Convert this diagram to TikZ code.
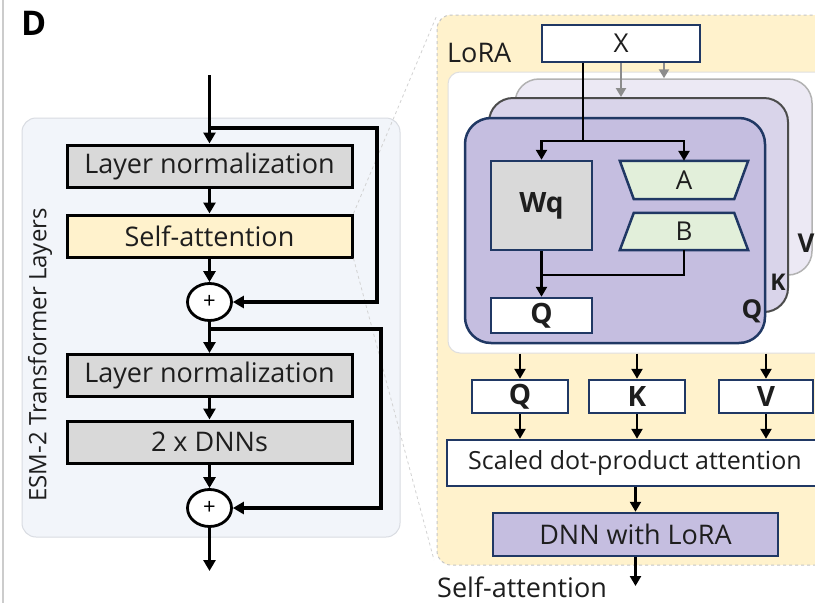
\documentclass[tikz,border=0pt]{standalone}
\usepackage{fontspec}
\setmainfont{Open Sans}
\usetikzlibrary{arrows.meta,shapes.geometric}
\definecolor{esmbg}{HTML}{F2F5FA}
\definecolor{esmedge}{HTML}{D9DCE2}
\definecolor{boxgray}{HTML}{D9D9D9}
\definecolor{attnY}{HTML}{FFF2CC}
\definecolor{navy}{HTML}{203864}
\definecolor{lavQ}{HTML}{C5BEE0}
\definecolor{lavK}{HTML}{D9D4EA}
\definecolor{lavV}{HTML}{ECE9F4}
\definecolor{loraA}{HTML}{E2EFDA}
\definecolor{txt}{HTML}{1E1E1E}
\tikzset{
  thk/.style={line width=3.2pt, draw=black},
  arr/.style={thk, -{Triangle[length=11pt,width=12pt]}},
  rline/.style={line width=2.8pt, draw=black},
  rarr/.style={rline, -{Triangle[length=10pt,width=11pt]}},
  garr/.style={line width=2.4pt, draw=gray!90, -{Triangle[length=9pt,width=10pt]}},
  layerbox/.style={draw=black, line width=3pt, fill=boxgray, minimum width=285pt, minimum height=42pt, font=\fontsize{27}{30}\selectfont, text=txt, inner sep=0pt},
  plusnode/.style={ellipse, draw=black, line width=2.8pt, fill=white, minimum width=44pt, minimum height=37pt, inner sep=0pt, font=\fontsize{22}{24}\selectfont},
  navybox/.style={draw=navy, line width=2.5pt, fill=white, inner sep=0pt, text=txt},
  boldlab/.style={font=\fontsize{28}{30}\selectfont\bfseries},
  zoomline/.style={draw=gray!35, dashed, line width=0.8pt},
}
\begin{document}
\begin{tikzpicture}[x=1pt,y=-1pt]
\useasboundingbox (0,0) rectangle (815,603);
\clip (0,0) rectangle (815,603);
\fill[white] (0,0) rectangle (815,603);

% left rule of the figure
\draw[gray!40, line width=2pt] (3,0) -- (3,603);

% panel letter
\node[anchor=base west, font=\fontsize{34}{38}\selectfont\bfseries, inner sep=0pt] (letter) at (21,35) {D};

% ===== ESM-2 transformer layer =====
\draw[draw=esmedge, fill=esmbg, line width=1pt, rounded corners=14pt] (22,118) rectangle (400,537);
\node[rotate=90, font=\fontsize{24}{27}\selectfont, text=txt] (esm) at (40,355) {ESM-2 Transformer Layers};

\node[layerbox] (ln1) at (209.5,166) {Layer normalization};
\node[layerbox, fill=attnY] (sa) at (209.5,236) {Self-attention};
\node[plusnode] (plus1) at (209.5,302) {+};
\node[layerbox] (ln2) at (209.5,375.5) {Layer normalization};
\node[layerbox] (dnn2) at (209.5,442) {2 x DNNs};
\node[plusnode] (plus2) at (209.5,508) {+};

% zoom guides towards the LoRA panel
\coordinate (zt) at (437,15);
\coordinate (zb) at (434,560);
\draw[zoomline] (sa.north east) -- (zt);
\draw[zoomline] (sa.south east) -- (zb);

\coordinate (in) at (209.5,75);
\coordinate (br1) at (209.5,128);
\coordinate (r1) at (377,128);
\coordinate (br2) at (209.5,329);
\coordinate (r2) at (381,329);
\coordinate (out) at (209.5,571);

\draw[arr] (in) -- (ln1.north);
\draw[arr] (br1) -- (r1) |- (plus1.east);
\draw[arr] (ln1.south) -- (sa.north);
\draw[arr] (sa.south) -- (plus1.north);
\draw[arr] (plus1.south) -- (ln2.north);
\draw[arr] (br2) -- (r2) |- (plus2.east);
\draw[arr] (ln2.south) -- (dnn2.north);
\draw[arr] (dnn2.south) -- (plus2.north);
\draw[arr] (plus2.south) -- (out);

% ===== LoRA self-attention =====
\draw[draw=gray!45, dashed, line width=1pt, fill=attnY, rounded corners=14pt] (437,15) rectangle (850,565);
\node[anchor=base west, inner sep=0pt, font=\fontsize{27}{30}\selectfont, text=txt] (lora) at (447,62) {LoRA};

\node[draw=gray!25, line width=1pt, fill=white, rounded corners=12pt, minimum width=400pt, minimum height=281pt, inner sep=0pt] (inner) at (648,212.5) {};

\node[draw=gray!60, line width=1.5pt, fill=lavV, rounded corners=24pt, minimum width=297pt, minimum height=196pt] (vpanel) at (663.5,177) {};
\node[draw=black!70, line width=2pt, fill=lavK, rounded corners=24pt, minimum width=299pt, minimum height=214pt] (kpanel) at (638.5,205) {};
\node[draw=navy, line width=2.5pt, fill=lavQ, rounded corners=26pt, minimum width=300pt, minimum height=225pt] (qpanel) at (615,230.5) {};
\node[font=\fontsize{26}{28}\selectfont\bfseries, text=txt, inner sep=0pt] (vlab) at (806,243) {V};
\node[font=\fontsize{23}{25}\selectfont\bfseries, text=txt, inner sep=0pt] (klab) at (778,282) {K};
\node[font=\fontsize{26}{28}\selectfont\bfseries, text=txt, inner sep=0pt] (qlab) at (752,311) {Q};

\node[navybox, minimum width=158pt, minimum height=37pt, font=\fontsize{26}{28}\selectfont] (xbox) at (621,43.5) {X};

\node[navybox, fill=boxgray, minimum width=101pt, minimum height=89pt, boldlab] (wq) at (541.5,205.5) {Wq};
\node[navybox, minimum width=101pt, minimum height=35pt, boldlab] (qout) at (541.5,315.5) {Q};

% low-rank factors A (down-projection) and B (up-projection)
\node[minimum width=128pt, minimum height=38pt, inner sep=0pt] (A) at (684,180) {};
\draw[draw=navy, line width=2.5pt, fill=loraA] (A.north west) -- (A.north east) -- ([xshift=-14pt]A.south east) -- ([xshift=14pt]A.south west) -- cycle;
\node[font=\fontsize{26}{28}\selectfont, text=txt] at (A) {A};
\node[minimum width=128pt, minimum height=37pt, inner sep=0pt] (B) at (684,231.5) {};
\draw[draw=navy, line width=2.5pt, fill=loraA] ([xshift=14pt]B.north west) -- ([xshift=-14pt]B.north east) -- (B.south east) -- (B.south west) -- cycle;
\node[font=\fontsize{26}{28}\selectfont, text=txt] at (B) {B};

\coordinate (split) at (583,141);
\coordinate (join) at (541.5,275);
\draw[garr] (xbox.south) -- (xbox.south |- kpanel.north);
\draw[garr] ([xshift=43pt]xbox.south) -- ([xshift=43pt]xbox.south |- vpanel.north);
\draw[rline] ([xshift=-38pt]xbox.south) -- (split);
\draw[rarr] (split) -| (wq.north);
\draw[rarr] (split) -| (A.north);
\draw[rarr] (wq.south) -- (qout.north);
\draw[rline] (B.south) |- (join);

% projections and attention
\node[navybox, minimum width=96pt, minimum height=33pt, boldlab] (qb) at (520,396.5) {Q};
\node[navybox, minimum width=96pt, minimum height=33pt, boldlab] (kb) at (637,396.5) {K};
\node[navybox, minimum width=94pt, minimum height=33pt, boldlab] (vb) at (766,396.5) {V};
\node[navybox, minimum width=376pt, minimum height=46pt, font=\fontsize{25}{28}\selectfont] (sdp) at (635,463) {Scaled dot-product attention};
\node[navybox, fill=lavQ, minimum width=285pt, minimum height=43pt, font=\fontsize{27}{30}\selectfont] (dnnl) at (635.5,534.5) {DNN with LoRA};

\draw[rarr] (qb.north |- inner.south) -- (qb.north);
\draw[rarr] (kb.north |- inner.south) -- (kb.north);
\draw[rarr] (vb.north |- inner.south) -- (vb.north);
\draw[rarr] (qb.south) -- (qb.south |- sdp.north);
\draw[rarr] (kb.south) -- (kb.south |- sdp.north);
\draw[rarr] (vb.south) -- (vb.south |- sdp.north);
\draw[rarr] (sdp.south -| dnnl.north) -- (dnnl.north);
\coordinate (saout) at (635.5,586);
\draw[rarr] (dnnl.south) -- (saout);
\node[anchor=base west, inner sep=0pt, font=\fontsize{27}{30}\selectfont, text=txt] (salab) at (437,597) {Self-attention};
\end{tikzpicture}
\end{document}
